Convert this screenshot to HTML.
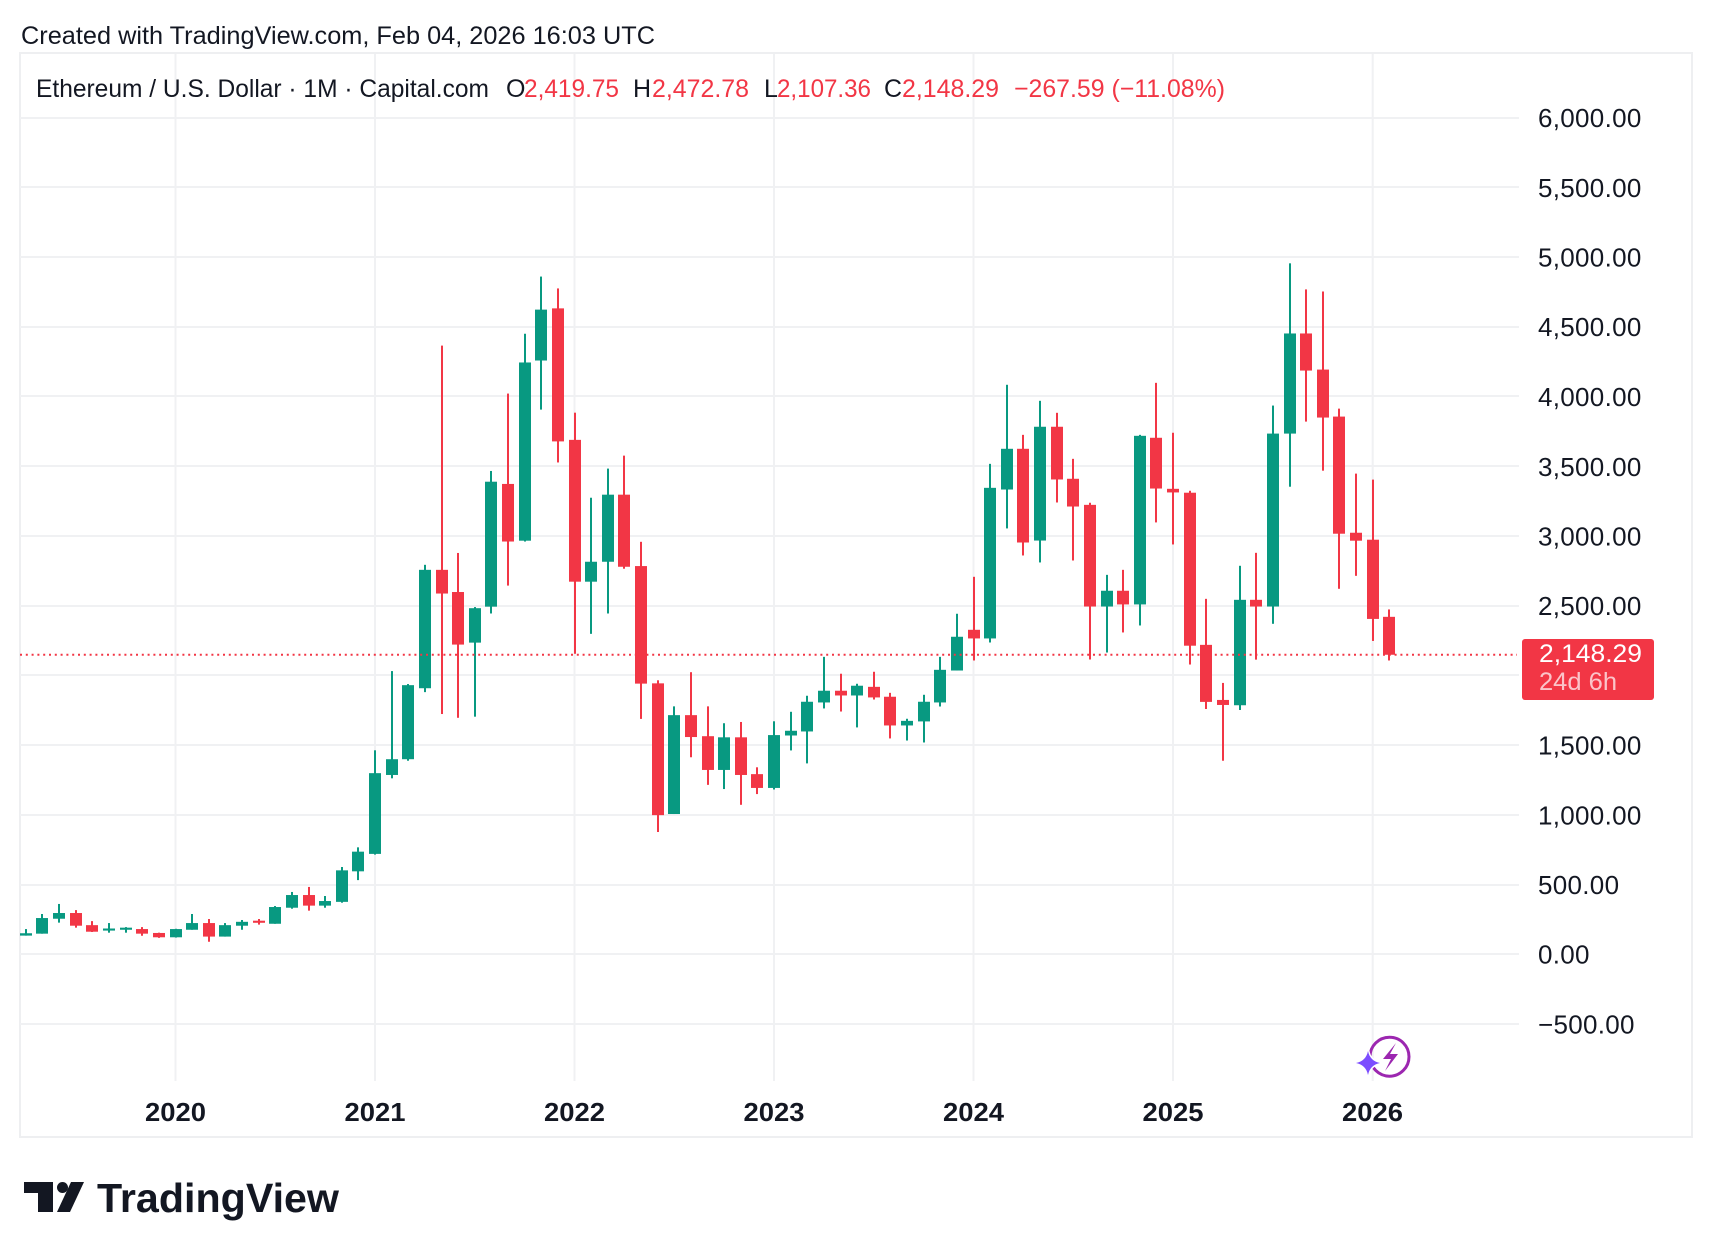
<!DOCTYPE html>
<html>
<head>
<meta charset="utf-8">
<style>
html,body{margin:0;padding:0;background:#ffffff;}
svg{display:block;}
text{font-family:"Liberation Sans",Arial,sans-serif;fill:#131722;}
</style>
</head>
<body>
<svg width="1712" height="1258" viewBox="0 0 1712 1258" xmlns="http://www.w3.org/2000/svg">
<defs>
<clipPath id="plot"><rect x="20" y="53" width="1499" height="1028"/></clipPath>
</defs>
<rect x="0" y="0" width="1712" height="1258" fill="#ffffff"/>

<!-- header -->
<text x="21" y="44" font-size="25" textLength="634" lengthAdjust="spacingAndGlyphs">Created with TradingView.com, Feb 04, 2026 16:03 UTC</text>

<!-- frame -->
<rect x="20" y="53" width="1672" height="1084" fill="none" stroke="#eeeff1" stroke-width="2"/>

<!-- horizontal grid -->
<g fill="#f0f1f3">
<rect x="20" y="117" width="1499" height="2"/>
<rect x="20" y="186" width="1499" height="2"/>
<rect x="20" y="256" width="1499" height="2"/>
<rect x="20" y="326" width="1499" height="2"/>
<rect x="20" y="395" width="1499" height="2"/>
<rect x="20" y="465" width="1499" height="2"/>
<rect x="20" y="535" width="1499" height="2"/>
<rect x="20" y="605" width="1499" height="2"/>
<rect x="20" y="674" width="1499" height="2"/>
<rect x="20" y="744" width="1499" height="2"/>
<rect x="20" y="814" width="1499" height="2"/>
<rect x="20" y="884" width="1499" height="2"/>
<rect x="20" y="953" width="1499" height="2"/>
<rect x="20" y="1023" width="1499" height="2"/>
</g>
<!-- vertical grid -->
<g fill="#f0f1f3">
<rect x="174.5" y="54" width="2" height="1027"/>
<rect x="374" y="54" width="2" height="1027"/>
<rect x="573.5" y="54" width="2" height="1027"/>
<rect x="773" y="54" width="2" height="1027"/>
<rect x="972.5" y="54" width="2" height="1027"/>
<rect x="1172" y="54" width="2" height="1027"/>
<rect x="1371.7" y="54" width="2" height="1027"/>
</g>

<!-- legend -->
<g font-size="25">
<text x="36" y="97" textLength="453" lengthAdjust="spacingAndGlyphs">Ethereum / U.S. Dollar · 1M · Capital.com</text>
<text x="506" y="97">O</text>
<text x="524" y="97" textLength="95" lengthAdjust="spacingAndGlyphs" style="fill:#F23645">2,419.75</text>
<text x="633" y="97">H</text>
<text x="652" y="97" textLength="97" lengthAdjust="spacingAndGlyphs" style="fill:#F23645">2,472.78</text>
<text x="764" y="97">L</text>
<text x="777" y="97" textLength="94" lengthAdjust="spacingAndGlyphs" style="fill:#F23645">2,107.36</text>
<text x="884" y="97">C</text>
<text x="902" y="97" textLength="97" lengthAdjust="spacingAndGlyphs" style="fill:#F23645">2,148.29</text>
<text x="1014" y="97" textLength="211" lengthAdjust="spacingAndGlyphs" style="fill:#F23645">−267.59 (−11.08%)</text>
</g>

<!-- candles -->
<g clip-path="url(#plot)">
<g transform="matrix(1 0 0 -0.13945 0 954.3)">
<g fill="#089981">
<rect x="25" y="134" width="2" height="47"/><rect x="20" y="134" width="12" height="17"/>
<rect x="41" y="148" width="2" height="141"/><rect x="36" y="148" width="12" height="112"/>
<rect x="58" y="227" width="2" height="134"/><rect x="53" y="255" width="12" height="41"/>
<rect x="108" y="155" width="2" height="69"/><rect x="103" y="170" width="12" height="15"/>
<rect x="125" y="155" width="2" height="40"/><rect x="120" y="176" width="12" height="15"/>
<rect x="175" y="120" width="2" height="63"/><rect x="170" y="122" width="12" height="59"/>
<rect x="191" y="176" width="2" height="113"/><rect x="186" y="176" width="12" height="48"/>
<rect x="224" y="127" width="2" height="97"/><rect x="219" y="127" width="12" height="82"/>
<rect x="241" y="176" width="2" height="70"/><rect x="236" y="205" width="12" height="28"/>
<rect x="274" y="219" width="2" height="127"/><rect x="269" y="219" width="12" height="120"/>
<rect x="291" y="327" width="2" height="120"/><rect x="286" y="334" width="12" height="91"/>
<rect x="324" y="334" width="2" height="84"/><rect x="319" y="349" width="12" height="33"/>
<rect x="341" y="370" width="2" height="256"/><rect x="336" y="376" width="12" height="226"/>
<rect x="357" y="532" width="2" height="235"/><rect x="352" y="595" width="12" height="141"/>
<rect x="374" y="715" width="2" height="748"/><rect x="369" y="720" width="12" height="579"/>
<rect x="391" y="1262" width="2" height="769"/><rect x="386" y="1286" width="12" height="113"/>
<rect x="407" y="1388" width="2" height="550"/><rect x="402" y="1399" width="12" height="531"/>
<rect x="424" y="1880" width="2" height="913"/><rect x="419" y="1908" width="12" height="849"/>
<rect x="474" y="1704" width="2" height="786"/><rect x="469" y="2235" width="12" height="247"/>
<rect x="490" y="2444" width="2" height="1022"/><rect x="485" y="2493" width="12" height="896"/>
<rect x="524" y="2960" width="2" height="1490"/><rect x="519" y="2966" width="12" height="1278"/>
<rect x="540" y="3906" width="2" height="954"/><rect x="535" y="4258" width="12" height="365"/>
<rect x="590" y="2298" width="2" height="976"/><rect x="585" y="2672" width="12" height="143"/>
<rect x="607" y="2444" width="2" height="1039"/><rect x="602" y="2815" width="12" height="481"/>
<rect x="673" y="1006" width="2" height="772"/><rect x="668" y="1006" width="12" height="709"/>
<rect x="723" y="1185" width="2" height="472"/><rect x="718" y="1322" width="12" height="234"/>
<rect x="773" y="1182" width="2" height="489"/><rect x="768" y="1193" width="12" height="379"/>
<rect x="790" y="1462" width="2" height="277"/><rect x="785" y="1569" width="12" height="34"/>
<rect x="806" y="1369" width="2" height="485"/><rect x="801" y="1598" width="12" height="213"/>
<rect x="823" y="1763" width="2" height="370"/><rect x="818" y="1806" width="12" height="84"/>
<rect x="856" y="1627" width="2" height="313"/><rect x="851" y="1856" width="12" height="70"/>
<rect x="906" y="1533" width="2" height="156"/><rect x="901" y="1641" width="12" height="33"/>
<rect x="923" y="1519" width="2" height="342"/><rect x="918" y="1670" width="12" height="141"/>
<rect x="939" y="1777" width="2" height="356"/><rect x="934" y="1806" width="12" height="234"/>
<rect x="956" y="2035" width="2" height="407"/><rect x="951" y="2035" width="12" height="242"/>
<rect x="989" y="2236" width="2" height="1281"/><rect x="984" y="2265" width="12" height="1080"/>
<rect x="1006" y="3054" width="2" height="1030"/><rect x="1001" y="3333" width="12" height="292"/>
<rect x="1039" y="2810" width="2" height="1159"/><rect x="1034" y="2967" width="12" height="816"/>
<rect x="1106" y="2164" width="2" height="557"/><rect x="1101" y="2494" width="12" height="113"/>
<rect x="1139" y="2358" width="2" height="1367"/><rect x="1134" y="2509" width="12" height="1209"/>
<rect x="1239" y="1752" width="2" height="1034"/><rect x="1234" y="1786" width="12" height="756"/>
<rect x="1272" y="2370" width="2" height="1565"/><rect x="1267" y="2494" width="12" height="1240"/>
<rect x="1289" y="3353" width="2" height="1602"/><rect x="1284" y="3734" width="12" height="718"/>
</g>
<g fill="#F23645">
<rect x="75" y="191" width="2" height="126"/><rect x="70" y="205" width="12" height="91"/>
<rect x="91" y="160" width="2" height="78"/><rect x="86" y="162" width="12" height="47"/>
<rect x="141" y="133" width="2" height="62"/><rect x="136" y="148" width="12" height="33"/>
<rect x="158" y="118" width="2" height="37"/><rect x="153" y="122" width="12" height="31"/>
<rect x="208" y="90" width="2" height="163"/><rect x="203" y="127" width="12" height="97"/>
<rect x="258" y="213" width="2" height="40"/><rect x="253" y="226" width="12" height="15"/>
<rect x="308" y="313" width="2" height="170"/><rect x="303" y="349" width="12" height="76"/>
<rect x="441" y="1723" width="2" height="2642"/><rect x="436" y="2587" width="12" height="170"/>
<rect x="457" y="1696" width="2" height="1182"/><rect x="452" y="2221" width="12" height="377"/>
<rect x="507" y="2644" width="2" height="1377"/><rect x="502" y="2960" width="12" height="413"/>
<rect x="557" y="3527" width="2" height="1248"/><rect x="552" y="3678" width="12" height="954"/>
<rect x="574" y="2155" width="2" height="1729"/><rect x="569" y="2672" width="12" height="1017"/>
<rect x="623" y="2765" width="2" height="811"/><rect x="618" y="2779" width="12" height="517"/>
<rect x="640" y="1688" width="2" height="1270"/><rect x="635" y="1941" width="12" height="843"/>
<rect x="657" y="877" width="2" height="1088"/><rect x="652" y="998" width="12" height="945"/>
<rect x="690" y="1413" width="2" height="610"/><rect x="685" y="1558" width="12" height="157"/>
<rect x="707" y="1215" width="2" height="563"/><rect x="702" y="1322" width="12" height="242"/>
<rect x="740" y="1072" width="2" height="594"/><rect x="735" y="1286" width="12" height="270"/>
<rect x="756" y="1149" width="2" height="192"/><rect x="751" y="1193" width="12" height="99"/>
<rect x="840" y="1741" width="2" height="271"/><rect x="835" y="1856" width="12" height="34"/>
<rect x="873" y="1827" width="2" height="199"/><rect x="868" y="1842" width="12" height="76"/>
<rect x="889" y="1548" width="2" height="327"/><rect x="884" y="1641" width="12" height="206"/>
<rect x="973" y="2107" width="2" height="600"/><rect x="968" y="2265" width="12" height="62"/>
<rect x="1022" y="2860" width="2" height="865"/><rect x="1017" y="2953" width="12" height="672"/>
<rect x="1056" y="3240" width="2" height="643"/><rect x="1051" y="3405" width="12" height="378"/>
<rect x="1072" y="2824" width="2" height="729"/><rect x="1067" y="3211" width="12" height="199"/>
<rect x="1089" y="2114" width="2" height="1124"/><rect x="1084" y="2494" width="12" height="729"/>
<rect x="1122" y="2308" width="2" height="449"/><rect x="1117" y="2509" width="12" height="98"/>
<rect x="1155" y="3097" width="2" height="1001"/><rect x="1150" y="3340" width="12" height="364"/>
<rect x="1172" y="2939" width="2" height="801"/><rect x="1167" y="3312" width="12" height="26"/>
<rect x="1189" y="2078" width="2" height="1246"/><rect x="1184" y="2213" width="12" height="1097"/>
<rect x="1205" y="1759" width="2" height="790"/><rect x="1200" y="1810" width="12" height="409"/>
<rect x="1222" y="1388" width="2" height="558"/><rect x="1217" y="1788" width="12" height="36"/>
<rect x="1255" y="2113" width="2" height="766"/><rect x="1250" y="2494" width="12" height="48"/>
<rect x="1305" y="3820" width="2" height="948"/><rect x="1300" y="4186" width="12" height="266"/>
<rect x="1322" y="3468" width="2" height="1285"/><rect x="1317" y="3849" width="12" height="344"/>
<rect x="1338" y="2621" width="2" height="1292"/><rect x="1333" y="3016" width="12" height="840"/>
<rect x="1355" y="2714" width="2" height="733"/><rect x="1350" y="2966" width="12" height="57"/>
<rect x="1372" y="2247" width="2" height="1157"/><rect x="1367" y="2405" width="12" height="568"/>
<rect x="1388" y="2107" width="2" height="366"/><rect x="1383" y="2148" width="12" height="272"/>
</g>
</g>
</g>

<!-- current price dotted line -->
<line x1="20" y1="654.8" x2="1517" y2="654.8" stroke="#F23645" stroke-width="2" stroke-dasharray="2 3.8"/>

<!-- price axis labels -->
<g font-size="26" style="letter-spacing:0.3px">
<text x="1538" y="127">6,000.00</text>
<text x="1538" y="197">5,500.00</text>
<text x="1538" y="266.5">5,000.00</text>
<text x="1538" y="336">4,500.00</text>
<text x="1538" y="406">4,000.00</text>
<text x="1538" y="476">3,500.00</text>
<text x="1538" y="545.5">3,000.00</text>
<text x="1538" y="615">2,500.00</text>
<text x="1538" y="754.5">1,500.00</text>
<text x="1538" y="824.5">1,000.00</text>
<text x="1538" y="894">500.00</text>
<text x="1538" y="963.5">0.00</text>
<text x="1538" y="1033.5">−500.00</text>
</g>

<!-- price label box -->
<rect x="1522" y="639" width="132" height="61" rx="3" ry="3" fill="#F23645"/>
<text x="1539" y="662" font-size="25" textLength="103" lengthAdjust="spacingAndGlyphs" style="fill:#ffffff">2,148.29</text>
<text x="1539" y="690" font-size="25" textLength="78" lengthAdjust="spacingAndGlyphs" style="fill:#fbc4c9">24d 6h</text>

<!-- time axis labels -->
<g font-size="26" font-weight="bold">
<text x="145" y="1121" textLength="61" lengthAdjust="spacingAndGlyphs">2020</text>
<text x="344.5" y="1121" textLength="61" lengthAdjust="spacingAndGlyphs">2021</text>
<text x="544" y="1121" textLength="61" lengthAdjust="spacingAndGlyphs">2022</text>
<text x="743.5" y="1121" textLength="61" lengthAdjust="spacingAndGlyphs">2023</text>
<text x="943" y="1121" textLength="61" lengthAdjust="spacingAndGlyphs">2024</text>
<text x="1142.5" y="1121" textLength="61" lengthAdjust="spacingAndGlyphs">2025</text>
<text x="1342" y="1121" textLength="61" lengthAdjust="spacingAndGlyphs">2026</text>
</g>

<!-- icon -->
<circle cx="1389.5" cy="1056.7" r="19.5" fill="none" stroke="#9c27b0" stroke-width="3"/>
<path d="M1396 1043 L1383 1059 L1391 1059 L1385 1071 L1398 1054 L1390 1054 Z" fill="#9c27b0"/>
<path d="M1368 1051 Q1370 1061 1380 1063 Q1370 1065 1368 1075 Q1366 1065 1356 1063 Q1366 1061 1368 1051 Z" fill="#7c4dff" stroke="#ffffff" stroke-width="3" paint-order="stroke"/>

<!-- TradingView logo -->
<g fill="#131722">
<path d="M24 1182 H53 V1212 H38 V1193 H24 Z"/>
<circle cx="62.5" cy="1187.5" r="5.5"/>
<path d="M71 1182 H84 L70 1212 H57 Z"/>
</g>
<text x="97" y="1212" font-size="41" font-weight="bold" textLength="242" lengthAdjust="spacingAndGlyphs">TradingView</text>
</svg>
</body>
</html>
